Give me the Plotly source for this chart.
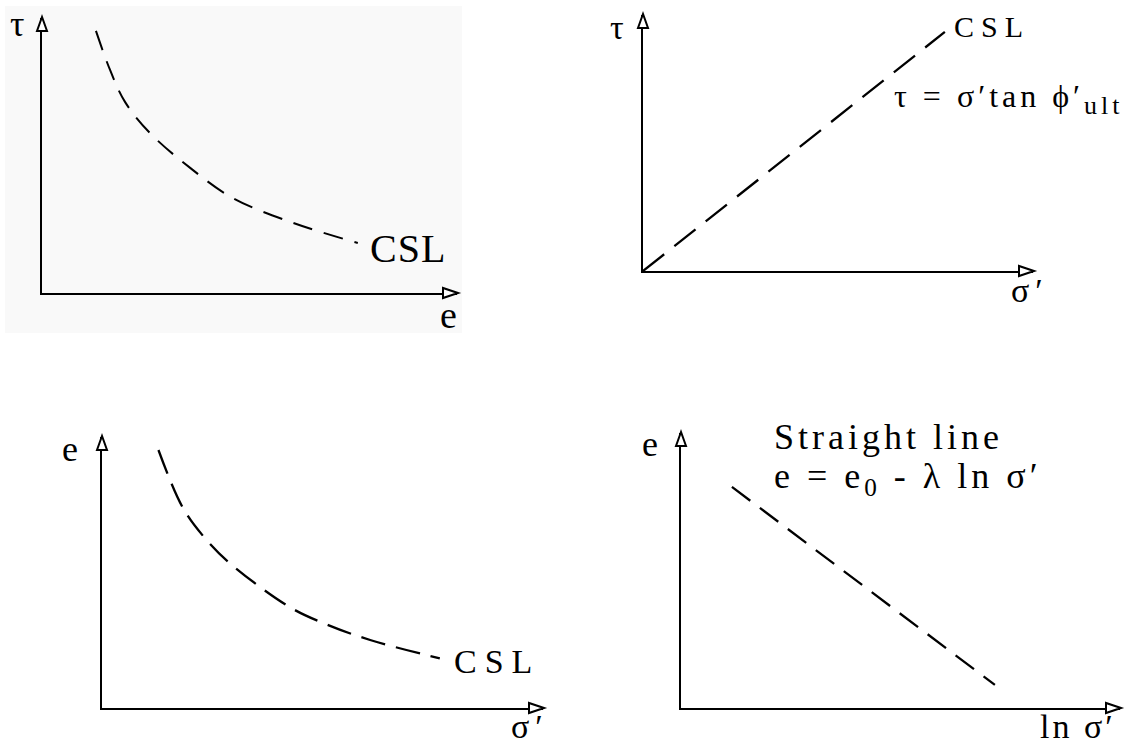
import plotly.graph_objects as go

W, H = 1138, 746
FONT = "Liberation Serif"

# Critical state line sketches, each drawn in its own 0-10 panel space
tl_e = [1.30, 1.64, 2.00, 2.60, 3.57, 4.60, 6.05, 7.61]
tl_tau = [9.53, 8.11, 6.95, 5.82, 4.55, 3.45, 2.55, 1.82]

tr_sigma = [0.0, 7.74]
tr_tau = [0.0, 9.34]

bl_sigma = [1.28, 1.84, 2.37, 2.90, 4.26, 5.13, 6.08, 7.66]
bl_e = [9.52, 7.37, 6.20, 5.34, 3.72, 3.06, 2.51, 1.83]

br_lnsigma = [1.16, 7.15]
br_e = [8.04, 0.84]

# panel frames in page pixels: (origin x, origin y, x-arrow tip, y-arrow tip)
panels = {
    "1": (42, 293, 457, 18),
    "2": (643, 271, 1033, 15),
    "3": (102, 708, 543, 437),
    "4": (681, 708, 1120, 433),
}
ARROW_LEN, ARROW_HALF = 14, 5


def px(x):
    return x / W


def py(y):
    return 1 - y / H


def spaced(text, sp):
    return f'<span style="letter-spacing:{sp}px">{text}</span>'


fig = go.Figure()

series = [
    ("1", tl_e, tl_tau, "spline", "20px,12px", 2),
    ("2", tr_sigma, tr_tau, "linear", "27px,13px", 2.3),
    ("3", bl_sigma, bl_e, "spline", "25px,11px", 2.3),
    ("4", br_lnsigma, br_e, "linear", "23px,12px", 2.3),
]
for k, xs, ys, shape, dash, w in series:
    fig.add_trace(go.Scatter(
        x=xs, y=ys, mode="lines",
        line=dict(color="black", width=w, dash=dash, shape=shape, smoothing=1.0),
        xaxis="x" if k == "1" else f"x{k}",
        yaxis="y" if k == "1" else f"y{k}",
        showlegend=False, hoverinfo="skip",
    ))

layout = dict(
    width=W, height=H,
    margin=dict(l=0, r=0, t=0, b=0),
    paper_bgcolor="white", plot_bgcolor="rgba(0,0,0,0)",
    showlegend=False,
)
axis_common = dict(
    range=[0, 10], showgrid=False, zeroline=False, showticklabels=False,
    ticks="", showline=True, linecolor="black", linewidth=2, fixedrange=True,
)
shapes = [
    # faint backing of the first sketch
    dict(type="rect", xref="paper", yref="paper",
         x0=px(5), x1=px(462), y0=py(333), y1=py(6),
         fillcolor="#f9f9f9", line=dict(width=0), layer="below"),
]


def tri(points):
    (x0, y0), (x1, y1), (x2, y2) = points
    return (f"M {px(x0)},{py(y0)} L {px(x1)},{py(y1)} "
            f"L {px(x2)},{py(y2)} Z")


for k, (ox, oy, xt, yt) in panels.items():
    xa = "xaxis" if k == "1" else f"xaxis{k}"
    ya = "yaxis" if k == "1" else f"yaxis{k}"
    xr = "x" if k == "1" else f"x{k}"
    yr = "y" if k == "1" else f"y{k}"
    layout[xa] = dict(axis_common, domain=[px(ox), px(xt)], anchor=yr)
    layout[ya] = dict(axis_common, domain=[py(oy), py(yt)], anchor=xr)
    # open arrowheads at the axis ends
    shapes.append(dict(type="path", xref="paper", yref="paper",
                       path=tri([(xt + 1, oy), (xt - ARROW_LEN, oy - ARROW_HALF),
                                 (xt - ARROW_LEN, oy + ARROW_HALF)]),
                       fillcolor="white", line=dict(color="black", width=2)))
    shapes.append(dict(type="path", xref="paper", yref="paper",
                       path=tri([(ox, yt - 1), (ox - ARROW_HALF, yt + ARROW_LEN - 1),
                                 (ox + ARROW_HALF, yt + ARROW_LEN - 1)]),
                       fillcolor="white", line=dict(color="black", width=2)))
layout["shapes"] = shapes


def label(text, x, y, size, xanchor="center", yanchor="middle", xref="paper", yref="paper"):
    return dict(text=text, x=x, y=y, xref=xref, yref=yref, showarrow=False,
                xanchor=xanchor, yanchor=yanchor,
                font=dict(family=FONT, size=size, color="black"))


annotations = [
    # top-left: tau vs e
    label("τ", px(17), py(24), 36),
    label("e", px(448), py(315), 38),
    label(spaced("CSL", 1), 7.85, 1.62, 40, xanchor="left", xref="x", yref="y"),
    # top-right: tau vs sigma'
    label("τ", px(617), py(27), 34),
    label(spaced("σ′", 6), px(1030), py(290), 34),
    label(spaced("CSL", 7), 7.92, 9.57, 30, xanchor="left", xref="x2", yref="y2"),
    label(spaced('τ = σ′tan ϕ′<sub><span style="font-size:26px">ult</span></sub>', 4),
          6.38, 6.72, 32, xanchor="left", xref="x2", yref="y2"),
    # bottom-left: e vs sigma'
    label("e", px(70), py(449), 36),
    label(spaced("σ′", 6), px(530), py(726), 34),
    label(spaced("CSL", 8), 7.94, 1.73, 34, xanchor="left", xref="x3", yref="y3"),
    # bottom-right: e vs ln sigma'
    label("e", px(650), py(444), 36),
    label(spaced("ln σ′", 3), px(1078), py(726), 34),
    label(spaced("Straight line", 4), px(772), py(437), 36, xanchor="left"),
    label(spaced("e = e<sub>0</sub> - λ ln σ′", 4), px(772), py(478), 36, xanchor="left"),
]
layout["annotations"] = annotations

fig.update_layout(**layout)
fig.write_html("out.html")
